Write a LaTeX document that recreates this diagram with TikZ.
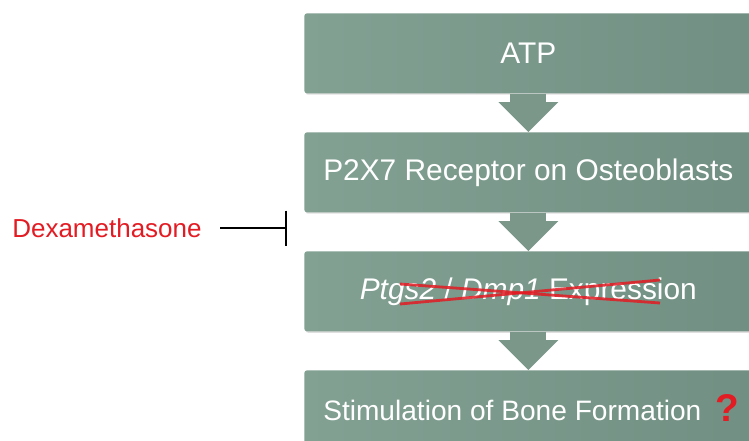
\documentclass[tikz,border=0pt]{standalone}
\usepackage{fontspec}
\setmainfont{Liberation Sans}
\usepackage{tikz}
\usetikzlibrary{arrows.meta,shadows}
\definecolor{BoxLeft}{HTML}{82A193}
\definecolor{BoxRight}{HTML}{718F82}
\definecolor{ArrowCol}{HTML}{7A978A}
\definecolor{InhibRed}{HTML}{E31B23}

\begin{document}
\begin{tikzpicture}[x=0.02cm, y=-0.02cm,
    stepbox/.style={anchor=north west, minimum width=8.96cm, minimum height=1.6cm,
      rounded corners=1.5pt, left color=BoxLeft, right color=BoxRight,
      drop shadow={opacity=0.25, shadow xshift=0.6pt, shadow yshift=-0.8pt},
      text=white, font=\fontsize{17}{19}\selectfont},
    flow/.style={ArrowCol, line width=0.72cm,
      -{Triangle[width=1.2cm, length=0.6cm, line width=0pt]}},
    inhibit/.style={black, line width=1.1pt, -{Bar[width=0.7cm, line width=1.1pt]}}]
  \useasboundingbox (0,0) rectangle (749,440);
  \fill[white] (0,0) rectangle (749,440);
  \clip (0,0) rectangle (749,440);
  % pathway boxes
  \node[stepbox] (atp)  at (304,13)  {ATP};
  \node[stepbox] (p2x7) at (304,132) {P2X7 Receptor on Osteoblasts};
  \node[stepbox] (expr) at (304,251) {\textit{Ptgs2} / \textit{Dmp1} Expression};
  \node[stepbox, font=\fontsize{16}{18}\selectfont] (stim) at (304,370)
    {Stimulation of Bone Formation\kern0.64cm};
  % block arrows
  \draw[flow] (atp.south)  -- (p2x7.north);
  \draw[flow] (p2x7.south) -- (expr.north);
  \draw[flow] (expr.south) -- (stim.north);
  % crossed-out expression
  \draw[InhibRed, opacity=0.85, line width=1.6pt] (400,284) -- (660,303);
  \draw[InhibRed, opacity=0.85, line width=1.6pt] (400,304) -- (660,280);
  \node[text=InhibRed, font=\fontsize{22}{24}\selectfont\bfseries] (qmark) at (727,408) {?};
  % inhibitor
  \node[anchor=east, inner sep=0pt, text=InhibRed, font=\fontsize{14.8}{16}\selectfont]
    (dexa) at (202,228) {Dexamethasone};
  \coordinate (block) at (287,228);
  \draw[inhibit, shorten <=0.36cm] (dexa) -- (block);
\end{tikzpicture}
\end{document}
